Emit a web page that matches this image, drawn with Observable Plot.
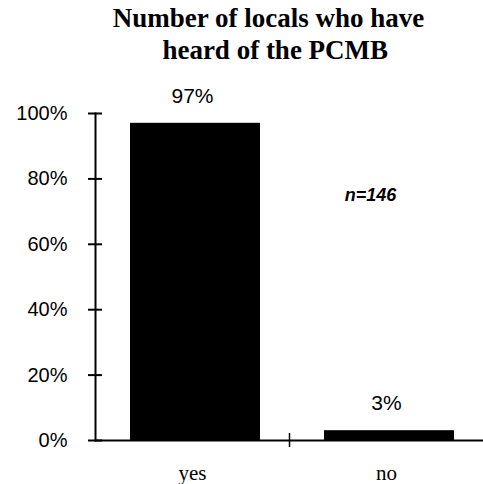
<!DOCTYPE html>
<html>
<head>
<meta charset="utf-8">
<script src="https://cdn.jsdelivr.net/npm/d3@7"></script>
<script src="https://cdn.jsdelivr.net/npm/@observablehq/plot@0.6"></script>
<style>
  html, body { margin: 0; padding: 0; background: #fff; }
  #title {
    width: 483px; height: 75px; box-sizing: border-box;
    padding: 2px 0 0 54px;
    font-family: "Liberation Serif", "Times New Roman", serif;
    font-weight: bold; font-size: 27px; line-height: 32px;
    text-align: center; color: #000;
  }
</style>
</head>
<body>
<div id="title">Number of locals who have<br>&nbsp;&nbsp;heard of the PCMB</div>
<div id="chart"></div>
<script>
const categories = ["yes", "no"];
const shares = [0.97, 0.03];
const yTicks = [0, 0.2, 0.4, 0.6, 0.8, 1];
const sampleNote = "n=146";
const notePosition = {category: "no", share: 0.75};

const data = categories.map((c, i) => ({answer: c, share: shares[i]}));
const pct = d3.format(".0%");

const chart = Plot.plot({
  width: 483,
  height: 409,
  marginLeft: 95,
  marginRight: 0,
  marginTop: 38,
  marginBottom: 44,
  x: {domain: categories, padding: 0, axis: null},
  y: {domain: [0, 1], axis: null},
  style: {fontFamily: "'Liberation Sans', Arial, sans-serif", fontSize: "20px", color: "#000", background: "#fff"},
  marks: [
    Plot.barY(data, {x: "answer", y: "share", fill: "#000", insetLeft: 35, insetRight: 29}),
    Plot.ruleY([0], {stroke: "#000", strokeWidth: 2}),
    Plot.frame({anchor: "left", stroke: "#000", strokeWidth: 2}),
    Plot.axisY({ticks: yTicks, tickSize: 14, dx: 7, tickFormat: () => "", label: null, stroke: "#000", strokeWidth: 2}),
    Plot.axisY({ticks: yTicks, tickFormat: pct, tickSize: 0, tickPadding: 28, label: null, fontSize: 20, fill: "#000"}),
    Plot.axisX({ticks: ["no"], tickSize: 14, dx: -97, dy: -7, tickFormat: () => "", label: null, stroke: "#000", strokeWidth: 1.5}),
    Plot.axisX({tickSize: 0, tickPadding: 25, label: null, fontFamily: "'Liberation Serif', 'Times New Roman', serif", fontSize: 21, fill: "#000"}),
    Plot.text(data, {x: "answer", y: "share", text: d => pct(d.share), dy: -27, fontSize: 21, fill: "#000"}),
    Plot.text([sampleNote], {x: () => notePosition.category, y: () => notePosition.share, text: d => d, dx: -16, fontStyle: "italic", fontWeight: "bold", fontSize: 18, fill: "#000"})
  ]
});
document.getElementById("chart").appendChild(chart);
</script>
</body>
</html>
